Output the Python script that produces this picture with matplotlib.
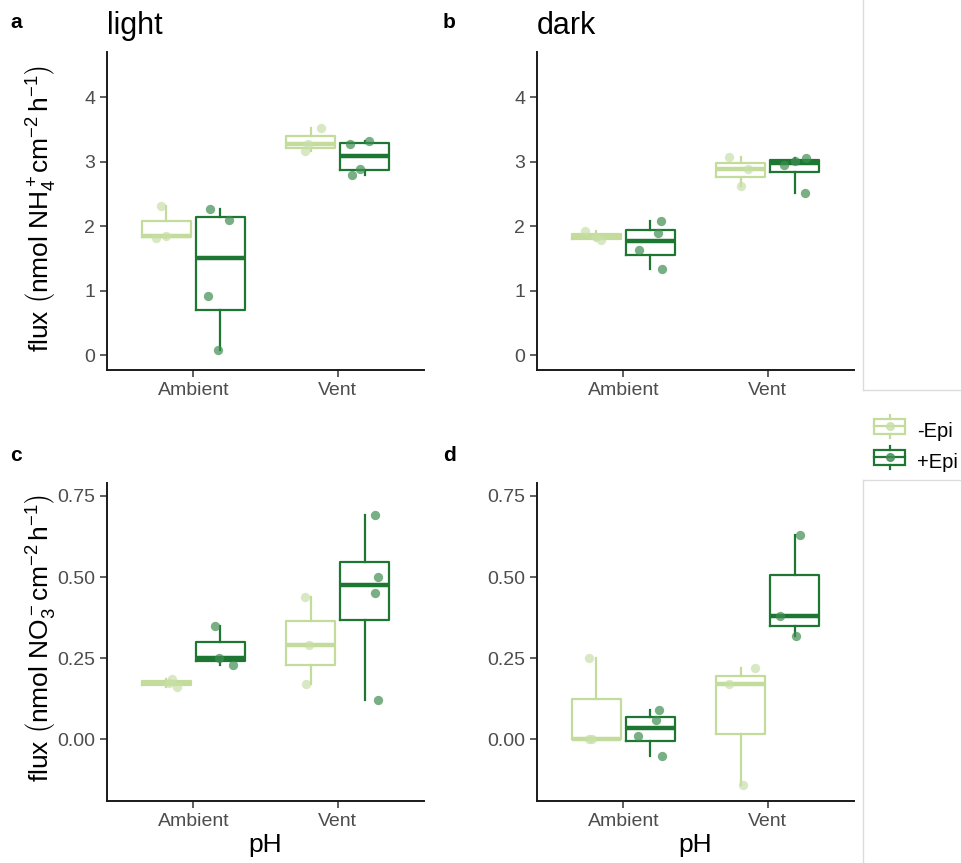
import matplotlib
matplotlib.use("Agg")
import matplotlib.pyplot as plt
from matplotlib.lines import Line2D
from matplotlib.patches import Rectangle
from matplotlib.legend_handler import HandlerBase
from matplotlib.ticker import FormatStrFormatter

plt.rcParams['font.family'] = ['Liberation Sans', 'DejaVu Sans']
plt.rcParams['mathtext.fontset'] = 'custom'
plt.rcParams['mathtext.rm'] = 'Liberation Sans'
plt.rcParams['mathtext.it'] = 'Liberation Sans:italic'
plt.rcParams['mathtext.bf'] = 'Liberation Sans:bold'

# data: per panel, per group (-Epi, +Epi), per pH category (Ambient, Vent)
categories = ['Ambient', 'Vent']
groups = ['-Epi', '+Epi']

nh4_light_minus = [[1.81, 1.84, 2.31], [3.16, 3.27, 3.52]]
nh4_light_plus = [[0.08, 0.91, 2.10, 2.26], [2.79, 2.89, 3.28, 3.32]]
nh4_dark_minus = [[1.78, 1.83, 1.92], [2.63, 2.89, 3.07]]
nh4_dark_plus = [[1.33, 1.63, 1.90, 2.08], [2.51, 2.95, 3.01, 3.05]]
no3_light_minus = [[0.16, 0.175, 0.185], [0.17, 0.29, 0.44]]
no3_light_plus = [[0.23, 0.25, 0.35], [0.12, 0.45, 0.50, 0.69]]
no3_dark_minus = [[0.0, 0.0, 0.25], [-0.14, 0.17, 0.22]]
no3_dark_plus = [[-0.05, 0.01, 0.06, 0.09], [0.32, 0.38, 0.63]]

# horizontal jitter (same order as values)
jit_light_minus = [[-0.07, 0.0, -0.04], [-0.04, -0.02, 0.07]]
jit_light_plus = [[-0.02, -0.09, 0.06, -0.07], [-0.09, -0.03, -0.10, 0.03]]
jit_dark_minus = [[0.03, 0.0, -0.08], [0.0, 0.05, -0.08]]
jit_dark_plus = [[0.08, -0.08, 0.05, 0.07], [0.07, -0.07, 0.0, 0.08]]
jitc_minus = [[0.07, 0.02, 0.04], [-0.03, -0.01, -0.04]]
jitc_plus = [[0.09, -0.01, -0.04], [0.09, 0.07, 0.09, 0.07]]
jitd_minus = [[-0.05, -0.03, -0.05], [0.02, -0.08, 0.10]]
jitd_plus = [[0.08, -0.09, 0.04, 0.06], [0.01, -0.10, 0.04]]

line_cols = ['#c3dc9b', '#1d7632']
pt_cols = ['#c8dfa8', '#3f8d52']

W, H = 961, 863
fig = plt.figure(figsize=(W / 100, H / 100), dpi=100)


def px_axes(left, top, right, bottom):
    return fig.add_axes([left / W, 1 - bottom / H, (right - left) / W, (bottom - top) / H])


def draw_panel(ax, minus, plus, jm, jp, ylim, yticks, fmt):
    for g, (vals, jit) in enumerate([(minus, jm), (plus, jp)]):
        off = -0.1875 if g == 0 else 0.1875
        for i in range(len(categories)):
            pos = i + 1 + off
            ax.boxplot([vals[i]], positions=[pos], widths=0.3375, whis=(0, 100),
                       showcaps=False, showfliers=False, manage_ticks=False,
                       boxprops=dict(color=line_cols[g], lw=1.6),
                       whiskerprops=dict(color=line_cols[g], lw=1.6),
                       medianprops=dict(color=line_cols[g], lw=3.2))
            xs = [pos + j for j in jit[i]]
            ax.scatter(xs, vals[i], s=45, color=pt_cols[g], alpha=0.7, lw=0, zorder=5)
    ax.set_xlim(0.4, 2.6)
    ax.set_ylim(*ylim)
    ax.set_yticks(yticks)
    ax.yaxis.set_major_formatter(FormatStrFormatter(fmt))
    ax.set_xticks([1, 2])
    ax.set_xticklabels(categories)
    for s in ['top', 'right']:
        ax.spines[s].set_visible(False)
    for s in ['left', 'bottom']:
        ax.spines[s].set_linewidth(1.4)
        ax.spines[s].set_color('#1a1a1a')
    ax.tick_params(labelsize=14, labelcolor='#4d4d4d', color='#333333', length=5, width=1.1)


ax_a = px_axes(107, 52, 424, 370)
ax_b = px_axes(537, 52, 854, 370)
ax_c = px_axes(107, 483, 424, 801)
ax_d = px_axes(537, 483, 854, 801)

draw_panel(ax_a, nh4_light_minus, nh4_light_plus, jit_light_minus, jit_light_plus,
           (-0.23, 4.7), [0, 1, 2, 3, 4], '%d')
draw_panel(ax_b, nh4_dark_minus, nh4_dark_plus, jit_dark_minus, jit_dark_plus,
           (-0.23, 4.7), [0, 1, 2, 3, 4], '%d')
draw_panel(ax_c, no3_light_minus, no3_light_plus, jitc_minus, jitc_plus,
           (-0.19, 0.79), [0, 0.25, 0.5, 0.75], '%.2f')
draw_panel(ax_d, no3_dark_minus, no3_dark_plus, jitd_minus, jitd_plus,
           (-0.19, 0.79), [0, 0.25, 0.5, 0.75], '%.2f')

ax_c.set_xlabel('pH', fontsize=19, labelpad=2)
ax_d.set_xlabel('pH', fontsize=19, labelpad=2)

fig.text(40 / W, 1 - 209 / H,
         r'flux$\ \left(\mathrm{nmol\ NH_4^+cm^{-2}\,h^{-1}}\right)$',
         rotation=90, ha='center', va='center', fontsize=19)
fig.text(40 / W, 1 - 638 / H,
         r'flux$\ \left(\mathrm{nmol\ NO_3^-cm^{-2}\,h^{-1}}\right)$',
         rotation=90, ha='center', va='center', fontsize=19)

# panel letters and titles
for lab, x, y in [('a', 10, 22), ('b', 443, 22), ('c', 10, 455), ('d', 443, 455)]:
    fig.text(x / W, 1 - y / H, lab, fontsize=15, fontweight='bold', va='center')
fig.text(107 / W, 1 - 26 / H, 'light', fontsize=22, va='center')
fig.text(537 / W, 1 - 26 / H, 'dark', fontsize=22, va='center')

# light grey frame remnants at the right
grey = '#dcdcdc'
for xs, ys in [([863, 863], [0, 390]), ([863, 961], [390, 390]),
               ([863, 961], [480, 480]), ([863, 863], [480, 863])]:
    fig.add_artist(Line2D([x / W for x in xs], [1 - y / H for y in ys],
                          color=grey, lw=1.0, transform=fig.transFigure))


class BoxKey(HandlerBase):
    def __init__(self, lc, pc):
        super().__init__()
        self.lc, self.pc = lc, pc

    def create_artists(self, legend, orig, x0, y0, width, height, fontsize, trans):
        bw, bh = width, height * 0.8
        bx, by = x0, y0 + (height - bh) / 2
        cx, cy = x0 + width / 2, y0 + height / 2
        rect = Rectangle((bx, by), bw, bh, fill=False, ec=self.lc, lw=1.6, transform=trans)
        med = Line2D([bx, bx + bw], [cy, cy], color=self.lc, lw=1.6, transform=trans)
        w1 = Line2D([cx, cx], [by + bh, y0 + height * 1.15], color=self.lc, lw=1.6, transform=trans)
        w2 = Line2D([cx, cx], [by, y0 - height * 0.15], color=self.lc, lw=1.6, transform=trans)
        pt = Line2D([cx], [cy], marker='o', ms=5.5, color=self.pc, alpha=0.8, lw=0, transform=trans)
        return [rect, med, w1, w2, pt]


h1 = Rectangle((0, 0), 1, 1)
h2 = Rectangle((0, 0), 1, 1)
fig.legend([h1, h2], groups, loc='center left', bbox_to_anchor=(874 / W, 1 - 447 / H),
           frameon=False, fontsize=14.5, handlelength=1.55, handleheight=1.0,
           handletextpad=0.6, labelspacing=0.55, borderpad=0, borderaxespad=0,
           handler_map={h1: BoxKey(line_cols[0], pt_cols[0]), h2: BoxKey(line_cols[1], pt_cols[1])})

fig.savefig('out.png', dpi=100)
